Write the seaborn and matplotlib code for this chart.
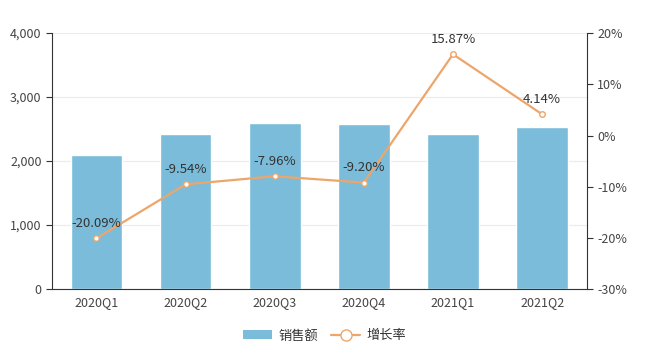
import numpy as np
import pandas as pd
import seaborn as sns
import matplotlib.pyplot as plt
from matplotlib.lines import Line2D
from matplotlib.patches import Patch
from matplotlib.ticker import FuncFormatter, FixedLocator

quarters = ["2020Q1", "2020Q2", "2020Q3", "2020Q4", "2021Q1", "2021Q2"]
sales = [2090, 2430, 2590, 2580, 2420, 2540]
growth = [-20.09, -9.54, -7.96, -9.20, 15.87, 4.14]

bar_color = "#7BBCDB"
line_color = "#EDA66A"
text_color = "#444444"

sns.set_style("white")
plt.rcParams['font.family'] = ['Noto Sans CJK SC', 'DejaVu Sans']

df = pd.DataFrame({"quarter": quarters, "sales": sales, "growth": growth})
df["x"] = np.arange(len(df))

fig = plt.figure(figsize=(6.49, 3.6), dpi=100)
ax = fig.add_axes([0.080, 0.197, 0.824, 0.711])

sns.barplot(data=df, x="quarter", y="sales", color=bar_color, saturation=1,
            width=0.58, ax=ax, zorder=2)
ax.set_ylim(0, 4000)
ax.set_xlim(-0.5, 5.5)
ax.set_yticks([0, 1000, 2000, 3000, 4000])
ax.yaxis.set_major_formatter(FuncFormatter(lambda v, p: f"{int(v):,}"))
ax.grid(axis="y", color="#EBEBEB", linewidth=0.8, zorder=0)
ax.set_axisbelow(True)
ax.set_xlabel("")
ax.set_ylabel("")

# ticks at category boundaries
ax.set_xticks(range(len(quarters)))
ax.set_xticklabels(quarters)
ax.xaxis.set_minor_locator(FixedLocator(np.arange(-0.5, 6.0, 1.0)))
ax.tick_params(axis="x", which="major", length=0, labelsize=9, colors=text_color, pad=5)
ax.tick_params(axis="x", which="minor", length=4, color="#333333", width=0.8)
ax.tick_params(axis="y", length=4, labelsize=9, colors=text_color, color="#333333", width=0.8, left=True)

for s in ["top", "right"]:
    ax.spines[s].set_visible(False)
for s in ["left", "bottom"]:
    ax.spines[s].set_color("#333333")
    ax.spines[s].set_linewidth(0.8)

ax2 = ax.twinx()
sns.lineplot(data=df, x="x", y="growth", color=line_color, linewidth=1.6, ax=ax2,
             marker="o", markersize=4, markerfacecolor="white", markeredgecolor=line_color,
             markeredgewidth=1, zorder=5)
ax2.set_ylim(-30, 20)
ax2.set_yticks([-30, -20, -10, 0, 10, 20])
ax2.yaxis.set_major_formatter(FuncFormatter(lambda v, p: f"{int(v)}%"))
ax2.set_xlabel("")
ax2.set_ylabel("")
ax2.set_xlim(-0.5, 5.5)
ax2.tick_params(axis="y", length=4, labelsize=9, colors=text_color, color="#333333", width=0.8, right=True)
for s in ["top", "left", "bottom"]:
    ax2.spines[s].set_visible(False)
ax2.spines["right"].set_color("#333333")
ax2.spines["right"].set_linewidth(0.8)

for xi, g in zip(df["x"], growth):
    ax2.annotate(f"{g:.2f}%", (xi, g), xytext=(0, 6), textcoords="offset points",
                 ha="center", va="bottom", fontsize=9.5, color="#333333", zorder=6)

handles = [
    Patch(facecolor=bar_color, edgecolor="none"),
    Line2D([0], [0], color=line_color, linewidth=1.6, marker="o", markersize=8,
           markerfacecolor="white", markeredgecolor=line_color),
]
fig.legend(handles, ["销售额", "增长率"], loc="center", bbox_to_anchor=(0.5, 0.067),
           ncol=2, frameon=False, fontsize=9.5, handlelength=2.2, columnspacing=1.0,
           handletextpad=0.5, labelcolor="#333333")

fig.savefig("out.png", dpi=100)
